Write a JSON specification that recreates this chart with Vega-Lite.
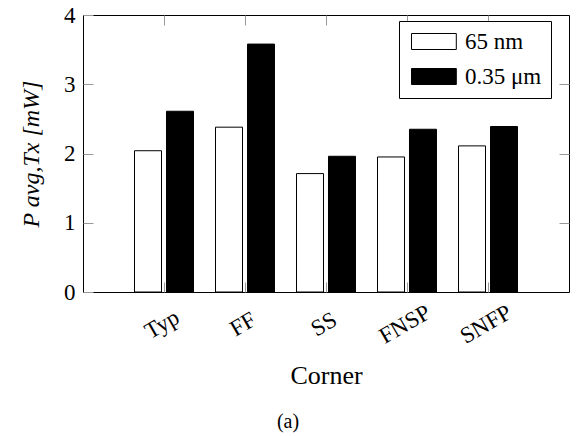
{
  "$schema": "https://vega.github.io/schema/vega-lite/v6.json",
  "autosize": {"type": "none"},
  "width": 486,
  "height": 277,
  "padding": {"left": 83, "top": 15, "right": 15, "bottom": 144},
  "background": "white",
  "title": {"text": "(a)", "orient": "bottom", "anchor": "middle", "dx": -38, "font": "Liberation Serif, serif", "fontSize": 20, "fontWeight": "normal", "color": "black", "offset": 24},
  "config": {
    "font": "Liberation Serif, serif",
    "view": {"stroke": "black", "strokeWidth": 1},
    "axis": {"labelFont": "Liberation Serif, serif", "titleFont": "Liberation Serif, serif", "labelColor": "black", "titleColor": "black", "domain": false, "grid": false, "tickColor": "#999999", "tickWidth": 1}
  },
  "data": {"values": [
    {"corner": "Typ", "tech": "65 nm", "value": 2.04},
    {"corner": "Typ", "tech": "0.35 μm", "value": 2.61},
    {"corner": "FF", "tech": "65 nm", "value": 2.38},
    {"corner": "FF", "tech": "0.35 μm", "value": 3.58},
    {"corner": "SS", "tech": "65 nm", "value": 1.71},
    {"corner": "SS", "tech": "0.35 μm", "value": 1.96},
    {"corner": "FNSP", "tech": "65 nm", "value": 1.95},
    {"corner": "FNSP", "tech": "0.35 μm", "value": 2.35},
    {"corner": "SNFP", "tech": "65 nm", "value": 2.11},
    {"corner": "SNFP", "tech": "0.35 μm", "value": 2.39}
  ]},
  "layer": [
    {
      "mark": {"type": "bar", "stroke": "black", "strokeWidth": 1},
      "encoding": {
        "x": {"field": "corner", "type": "nominal", "sort": ["Typ", "FF", "SS", "FNSP", "SNFP"],
              "scale": {"paddingInner": 0.21, "paddingOuter": 0.605},
              "axis": {"title": "Corner", "titleFontSize": 26, "titleFontWeight": "normal", "titlePadding": 14, "labelAngle": -30, "labelAlign": "center", "labelBaseline": "middle", "labelFontSize": 23, "labelOffset": -2, "tickSize": -10, "labelPadding": 42}},
        "xOffset": {"field": "tech", "type": "nominal", "sort": ["65 nm", "0.35 μm"], "scale": {"paddingInner": 0.156, "paddingOuter": 0.078}},
        "y": {"field": "value", "type": "quantitative", "scale": {"domain": [0, 4]},
              "axis": {"values": [0, 1, 2, 3, 4], "title": "P avg,Tx [mW]", "titleFontSize": 24, "titleFontStyle": "italic", "titleFontWeight": "normal", "titlePadding": 20, "labelFontSize": 23, "tickSize": -10, "labelPadding": 18}},
        "color": {"field": "tech", "type": "nominal", "sort": ["65 nm", "0.35 μm"],
                  "scale": {"domain": ["65 nm", "0.35 μm"], "range": ["white", "black"]},
                  "legend": {"title": null, "orient": "none", "legendX": 316, "legendY": 6, "strokeColor": "black", "fillColor": "white", "padding": 9, "symbolType": "M-1,-1L4.6,-1L4.6,1L-1,1Z", "symbolSize": 256, "symbolStrokeColor": "black", "symbolStrokeWidth": 1, "labelFont": "Liberation Serif, serif", "labelFontSize": 23, "labelColor": "black", "labelOffset": 34, "rowPadding": 11, "labelLimit": 200}}
      }
    },
    {
      "mark": {"type": "bar", "opacity": 0},
      "encoding": {
        "x": {"field": "corner", "type": "nominal", "sort": ["Typ", "FF", "SS", "FNSP", "SNFP"],
              "axis": {"orient": "top", "title": null, "labels": false, "tickSize": -10}},
        "xOffset": {"field": "tech", "type": "nominal", "sort": ["65 nm", "0.35 μm"]},
        "y": {"field": "value", "type": "quantitative",
              "axis": {"orient": "right", "values": [1, 2, 3], "title": null, "labels": false, "tickSize": -10}}
      }
    }
  ],
  "resolve": {"axis": {"x": "independent", "y": "independent"}}
}
